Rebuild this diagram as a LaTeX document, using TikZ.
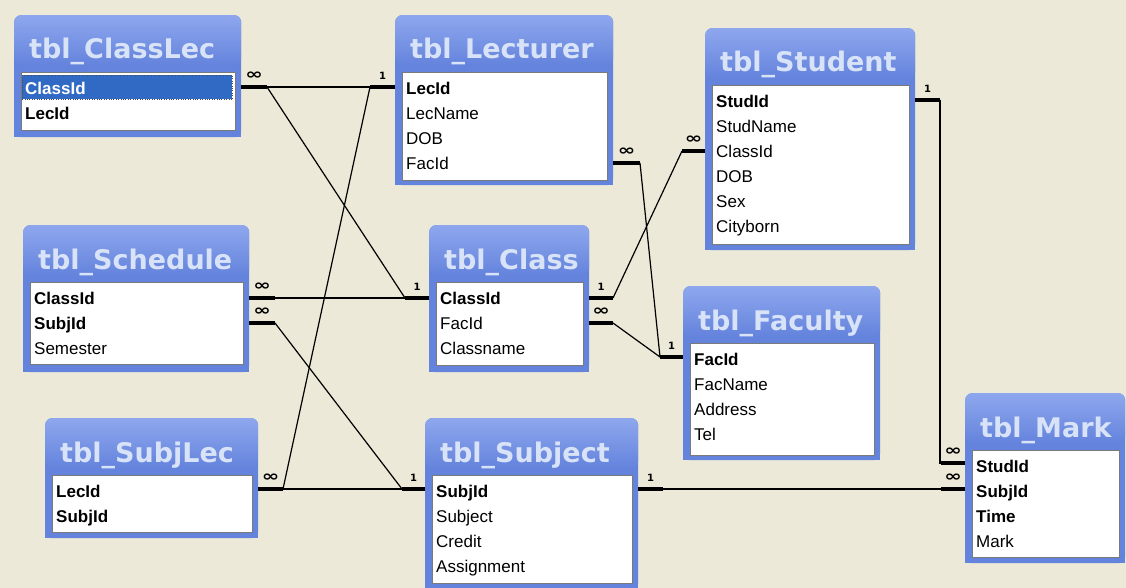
\documentclass[tikz,border=0pt]{standalone}
\usepackage{fontspec}
\setmainfont{Liberation Sans}
\newfontfamily\headfont{DejaVu Sans}
\usetikzlibrary{calc}

\definecolor{deskbg}{HTML}{ECE9D8}
\definecolor{tblblue}{HTML}{6483DC}
\definecolor{tbltop}{HTML}{8EA7EE}
\definecolor{headtxt}{HTML}{D8E3F8}
\definecolor{fldedge}{HTML}{7A7A7A}
\definecolor{selblue}{HTML}{316AC5}

% table frame: name, left, top, width, height, title, field list height
\newcommand{\erbox}[7]{%
  \node[tbox, minimum width=#4pt, minimum height=#5pt] (#1) at (#2,#3) {};
  \fill[tblblue] ([yshift=10pt]#1.south west) rectangle (#1.south east);
  \node[tband, minimum width=#4pt] (#1band) at (#1.north west) {};
  \node[ttl] (#1ttl) at ([xshift=15pt,yshift=-44pt]#1.north west) {#6};
  \node[fbox, minimum width={(#4-13)*1pt}, minimum height=#7pt] (#1fld)
    at ([xshift=7pt,yshift=-57pt]#1.north west) {};
}
% field rows: name, list of text/style
\newcommand{\erfields}[2]{%
  \foreach \f/\s [count=\i] in {#2}
    \node[\s] (#1-\i) at ([xshift=4pt,yshift={-(17+25*(\i-1))*1pt}]#1fld.north west) {\f};
}
\newcommand{\manysym}{{\fontsize{15}{16}\selectfont\scalebox{1.4}[1]{∞}}}

\begin{document}
\begin{tikzpicture}[x=1pt, y=-1pt,
    tbox/.style={anchor=north west, fill=tblblue, rounded corners=7pt, inner sep=0pt},
    tband/.style={anchor=north west, rounded corners=7pt, top color=tbltop,
      bottom color=tblblue, minimum height=50pt, inner sep=0pt},
    ttl/.style={anchor=base west, inner sep=0pt, text=headtxt,
      font=\headfont\bfseries\fontsize{27}{30}\selectfont},
    fbox/.style={anchor=north west, fill=white, draw=fldedge, line width=0.8pt, inner sep=0pt},
    fld/.style={anchor=west, inner sep=0pt, text height=13pt, text depth=2pt,
      font=\fontsize{17}{20}\selectfont},
    key/.style={fld, font=\fontsize{17}{20}\selectfont\bfseries},
    selkey/.style={key, text=white},
    selbar/.style={anchor=north west, fill=selblue, draw=black!70, dotted, inner sep=0pt},
    stub/.style={line width=4.5pt},
    rel/.style={line width=1.2pt},
    card/.style={inner sep=0pt, font=\headfont\bfseries\fontsize{10}{12}\selectfont}]

  \fill[deskbg] (0,0) rectangle (1126,588);
  \useasboundingbox (0,0) rectangle (1126,588);
  \clip (0,0) rectangle (1126,588);

  % tables
  \erbox{cl}{14}{15}{227}{122}{tbl\_ClassLec}{58}
  \node[selbar, minimum width=210pt, minimum height=24pt] (clsel) at (22,75) {};
  \erfields{cl}{ClassId/selkey, LecId/key}

  \erbox{lec}{395}{15}{218}{170}{tbl\_Lecturer}{108}
  \erfields{lec}{LecId/key, LecName/fld, DOB/fld, FacId/fld}

  \erbox{stu}{705}{28}{210}{222}{tbl\_Student}{159}
  \erfields{stu}{StudId/key, StudName/fld, ClassId/fld, DOB/fld, Sex/fld, Cityborn/fld}

  \erbox{sch}{23}{225}{226}{147}{tbl\_Schedule}{82}
  \erfields{sch}{ClassId/key, SubjId/key, Semester/fld}

  \erbox{cls}{429}{225}{160}{147}{tbl\_Class}{83}
  \erfields{cls}{ClassId/key, FacId/fld, Classname/fld}

  \erbox{fac}{683}{286}{197}{174}{tbl\_Faculty}{112}
  \erfields{fac}{FacId/key, FacName/fld, Address/fld, Tel/fld}

  \erbox{sl}{45}{418}{213}{120}{tbl\_SubjLec}{57}
  \erfields{sl}{LecId/key, SubjId/key}

  \erbox{sub}{425}{418}{213}{172}{tbl\_Subject}{108}
  \erfields{sub}{SubjId/key, Subject/fld, Credit/fld, Assignment/fld}

  \erbox{mk}{965}{393}{160}{170}{tbl\_Mark}{107}
  \erfields{mk}{StudId/key, SubjId/key, Time/key, Mark/fld}

  % stub ends
  \coordinate (clS) at (267,87);
  \coordinate (lecS1) at (370,87);
  \coordinate (lecS2) at (640,163);
  \coordinate (clsS1) at (405,298);
  \coordinate (clsS2) at (613,298);
  \coordinate (clsS3) at (613,323);
  \coordinate (schS1) at (275,298);
  \coordinate (schS2) at (275,323);
  \coordinate (slS) at (283,489);
  \coordinate (subS1) at (402,489);
  \coordinate (subS2) at (663,489);
  \coordinate (stuS1) at (682,151);
  \coordinate (stuS2) at (940,100);
  \coordinate (facS) at (660,357);
  \coordinate (mkS1) at (941,463);
  \coordinate (mkS2) at (941,489);

  % relationship lines
  \draw[rel] (clS) -- (lecS1);
  \draw[rel] (clS) -- (clsS1);
  \draw[rel] (lecS1) -- (slS);
  \draw[rel] (schS1) -- (clsS1);
  \draw[rel] (schS2) -- (subS1);
  \draw[rel] (slS) -- (subS1);
  \draw[rel] (subS2) -- (mkS2);
  \draw[rel] (clsS2) -- (stuS1);
  \draw[rel] (clsS3) -- (facS);
  \draw[rel] (lecS2) -- (facS);
  \draw[rel] (stuS2) -- (stuS2 |- mkS1) -- (mkS1);

  % stubs with cardinality
  \draw[stub] (cl.east |- clS) -- (clS) node[card, midway, above=5pt] (k1) {\manysym};
  \draw[stub] (lec.west |- lecS1) -- (lecS1) node[card, midway, above=5pt] (k2) {1};
  \draw[stub] (lec.east |- lecS2) -- (lecS2) node[card, midway, above=5pt] (k3) {\manysym};
  \draw[stub] (cls.west |- clsS1) -- (clsS1) node[card, midway, above=5pt] (k4) {1};
  \draw[stub] (cls.east |- clsS2) -- (clsS2) node[card, midway, above=5pt] (k5) {1};
  \draw[stub] (cls.east |- clsS3) -- (clsS3) node[card, midway, above=5pt] (k6) {\manysym};
  \draw[stub] (sch.east |- schS1) -- (schS1) node[card, midway, above=5pt] (k7) {\manysym};
  \draw[stub] (sch.east |- schS2) -- (schS2) node[card, midway, above=5pt] (k8) {\manysym};
  \draw[stub] (sl.east |- slS) -- (slS) node[card, midway, above=5pt] (k9) {\manysym};
  \draw[stub] (sub.west |- subS1) -- (subS1) node[card, midway, above=5pt] (k10) {1};
  \draw[stub] (sub.east |- subS2) -- (subS2) node[card, midway, above=5pt] (k11) {1};
  \draw[stub] (stu.west |- stuS1) -- (stuS1) node[card, midway, above=5pt] (k12) {\manysym};
  \draw[stub] (stu.east |- stuS2) -- (stuS2) node[card, midway, above=5pt] (k13) {1};
  \draw[stub] (fac.west |- facS) -- (facS) node[card, midway, above=5pt] (k14) {1};
  \draw[stub] (mk.west |- mkS1) -- (mkS1) node[card, midway, above=5pt] (k15) {\manysym};
  \draw[stub] (mk.west |- mkS2) -- (mkS2) node[card, midway, above=5pt] (k16) {\manysym};
\end{tikzpicture}
\end{document}
